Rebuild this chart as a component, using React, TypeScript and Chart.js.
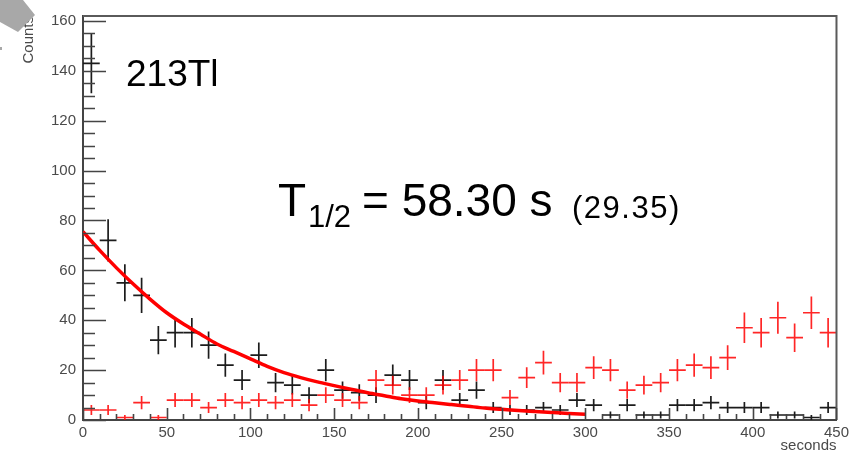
import React, { useEffect, useRef } from 'react';
import Chart from 'chart.js/auto';

// ---- data ----
const binCenters = [5, 15, 25, 35, 45, 55, 65, 75, 85, 95, 105, 115, 125, 135, 145, 155, 165, 175, 185, 195, 205, 215, 225, 235, 245, 255, 265, 275, 285, 295, 305, 315, 325, 335, 345, 355, 365, 375, 385, 395, 405, 415, 425, 435, 445];
const blackCounts = [143, 72, 55, 50, 32, 35, 35, 30, 22, 16, 26, 15, 14, 10, 20, 12, 11, 10, 18, 16, 7, 16, 8, 12, 5, 4, 4, 5, 4, 8, 6, 2, 6, 2, 2, 6, 6, 7, 5, 5, 5, 2, 2, 1, 5];
const redCounts = [4, 4, 1, 7, 1, 8, 8, 5, 8, 7, 8, 7, 8, 6, 10, 8, 7, 16, 14, 10, 10, 14, 16, 20, 20, 9, 17, 23, 15, 15, 21, 20, 12, 14, 15, 20, 22, 21, 25, 37, 35, 41, 33, 43, 35];
const fitTimes = [0, 10, 20, 30, 40, 50, 60, 70, 80, 90, 100, 110, 120, 130, 140, 150, 160, 170, 180, 190, 200, 210, 220, 230, 240, 250, 260, 270, 280, 290, 300];
const fitValues = [75.5, 68, 61, 54.5, 48.5, 43, 38.5, 34.5, 30.5, 27.5, 24.5, 21.5, 19, 17, 15.3, 13.8, 12.3, 10.9, 9.7, 8.5, 7.6, 6.9, 6.2, 5.5, 4.8, 4.3, 3.8, 3.4, 3.0, 2.6, 2.3];
const xTickValues = [0, 50, 100, 150, 200, 250, 300, 350, 400, 450];
const yTickValues = [0, 20, 40, 60, 80, 100, 120, 140, 160];

const X_MIN = 0;
const X_MAX = 450;
const Y_MIN = 0;
const Y_MAX = 162;
const BIN_HALF = 5;
const X_MINOR_STEP = 10;
const Y_MINOR_STEP = 5;

const FONT = '"Liberation Sans", Arial, Helvetica, sans-serif';

const crossPlugin = {
  id: 'histCrosses',
  beforeDatasetsDraw(chart: any) {
    const { ctx, chartArea } = chart;
    const xs = chart.scales.x;
    const ys = chart.scales.y;
    ctx.save();
    ctx.beginPath();
    ctx.rect(chartArea.left, chartArea.top, chartArea.right - chartArea.left, chartArea.bottom - chartArea.top);
    ctx.clip();
    chart.data.datasets.forEach((ds: any) => {
      if (!ds.isHist) return;
      ctx.strokeStyle = ds.crossColor;
      ctx.lineWidth = 1.7;
      ds.data.forEach((p: any) => {
        const e = Math.sqrt(p.y);
        const px = xs.getPixelForValue(p.x);
        const py = ys.getPixelForValue(p.y);
        ctx.beginPath();
        ctx.moveTo(xs.getPixelForValue(p.x - BIN_HALF), py);
        ctx.lineTo(xs.getPixelForValue(p.x + BIN_HALF), py);
        ctx.moveTo(px, ys.getPixelForValue(p.y + e));
        ctx.lineTo(px, ys.getPixelForValue(Math.max(0, p.y - e)));
        ctx.stroke();
      });
    });
    ctx.restore();
  },
  afterDraw(chart: any) {
    const { ctx, chartArea } = chart;
    const xs = chart.scales.x;
    const ys = chart.scales.y;
    ctx.save();
    // frame top/right
    ctx.strokeStyle = '#5a5a5a';
    ctx.lineWidth = 2;
    ctx.beginPath();
    ctx.moveTo(chartArea.left, chartArea.top);
    ctx.lineTo(chartArea.right, chartArea.top);
    ctx.lineTo(chartArea.right, chartArea.bottom);
    ctx.stroke();
    // x ticks (inward)
    ctx.strokeStyle = '#444';
    ctx.lineWidth = 1.6;
    ctx.beginPath();
    for (let v = X_MIN; v <= X_MAX; v += X_MINOR_STEP) {
      const px = Math.round(xs.getPixelForValue(v)) + 0.5;
      const len = xTickValues.includes(v) ? 12 : 6;
      ctx.moveTo(px, chartArea.bottom);
      ctx.lineTo(px, chartArea.bottom - len);
    }
    // y ticks (inward)
    for (let v = Y_MIN; v <= 160; v += Y_MINOR_STEP) {
      const py = Math.round(ys.getPixelForValue(v)) + 0.5;
      const len = yTickValues.includes(v) ? 23 : 12;
      ctx.moveTo(chartArea.left, py);
      ctx.lineTo(chartArea.left + len, py);
    }
    ctx.stroke();

    // annotations
    ctx.fillStyle = '#000';
    ctx.textBaseline = 'alphabetic';
    ctx.textAlign = 'left';
    const L = chartArea.left;
    const T = chartArea.top;
    ctx.font = `37px ${FONT}`;
    ctx.fillText('213Tl', L + 43, T + 70);
    ctx.font = `46px ${FONT}`;
    ctx.fillText('T', L + 195, T + 200);
    ctx.font = `31px ${FONT}`;
    ctx.fillText('1/2', L + 225, T + 211);
    ctx.font = `46px ${FONT}`;
    ctx.fillText('= 58.30 s', L + 279, T + 200);
    ctx.font = `31px ${FONT}`;
    (ctx as any).letterSpacing = '1.5px';
    ctx.fillText('(29.35)', L + 489, T + 202);
    (ctx as any).letterSpacing = '0px';

    // gray arrow shape in the corner
    ctx.fillStyle = '#a8a8a8';
    ctx.beginPath();
    ctx.moveTo(0, 0);
    ctx.lineTo(23, 0);
    ctx.lineTo(35, 15);
    ctx.lineTo(18, 32);
    ctx.lineTo(0, 22);
    ctx.closePath();
    ctx.fill();
    ctx.fillRect(0, 47, 2, 3);
    ctx.restore();
  },
};

export default function App() {
  const canvasRef = useRef<HTMLCanvasElement | null>(null);

  useEffect(() => {
    const canvas = canvasRef.current;
    if (!canvas) return;
    const chart = new Chart(canvas, {
      type: 'scatter',
      data: {
        datasets: [
          {
            type: 'scatter',
            label: 'black',
            data: binCenters.map((x, i) => ({ x, y: blackCounts[i] })),
            pointRadius: 0,
            isHist: true,
            crossColor: '#1c1c1c',
          } as any,
          {
            type: 'scatter',
            label: 'red',
            data: binCenters.map((x, i) => ({ x, y: redCounts[i] })),
            pointRadius: 0,
            isHist: true,
            crossColor: 'rgba(255,0,0,0.85)',
          } as any,
          {
            type: 'line',
            label: 'fit',
            data: fitTimes.map((x, i) => ({ x, y: fitValues[i] })),
            borderColor: '#ff0000',
            borderWidth: 3.5,
            pointRadius: 0,
            fill: false,
            cubicInterpolationMode: 'monotone',
            showLine: true,
          } as any,
        ],
      },
      options: {
        animation: false,
        responsive: false,
        devicePixelRatio: 1,
        layout: { padding: { top: 12, right: 16, left: 0, bottom: 0 } },
        plugins: { legend: { display: false }, tooltip: { enabled: false } },
        scales: {
          x: {
            type: 'linear',
            min: X_MIN,
            max: X_MAX,
            afterBuildTicks: (s: any) => {
              s.ticks = xTickValues.map((value) => ({ value }));
            },
            afterFit: (s: any) => {
              s.height = 35;
            },
            grid: { display: false, drawTicks: false },
            border: { display: true, color: '#444', width: 2 },
            ticks: {
              color: '#4a4a4a',
              font: { family: FONT, size: 15 },
              padding: 4,
              maxRotation: 0,
              autoSkip: false,
            },
            title: {
              display: true,
              text: 'seconds',
              align: 'end',
              color: '#4a4a4a',
              font: { family: FONT, size: 15 },
              padding: { top: 0, bottom: 0 },
            },
          },
          y: {
            type: 'linear',
            min: Y_MIN,
            max: Y_MAX,
            afterBuildTicks: (s: any) => {
              s.ticks = yTickValues.map((value) => ({ value }));
            },
            afterFit: (s: any) => {
              s.width = 83;
            },
            grid: { display: false, drawTicks: false },
            border: { display: true, color: '#444', width: 2 },
            ticks: {
              color: '#4a4a4a',
              font: { family: FONT, size: 15 },
              padding: 7,
              autoSkip: false,
            },
            title: {
              display: true,
              text: 'Counts',
              align: 'end',
              color: '#4a4a4a',
              font: { family: FONT, size: 15 },
              padding: { top: 20, bottom: 0 },
            },
          },
        },
      } as any,
      plugins: [crossPlugin],
    });
    return () => chart.destroy();
  }, []);

  return (
    <div style={{ position: 'fixed', left: 0, top: 0, width: 853, height: 455, background: '#fff' }}>
      <canvas ref={canvasRef} width={853} height={455} style={{ display: 'block', width: 853, height: 455 }} />
    </div>
  );
}
